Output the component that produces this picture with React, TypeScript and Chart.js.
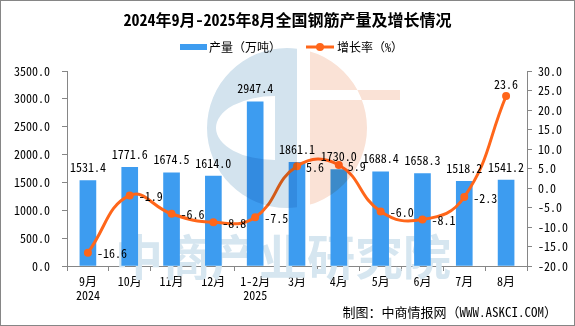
import React, { useEffect, useRef } from "react";
import { Chart, registerables } from "chart.js";

Chart.register(...registerables);

const categories: (string | string[])[] = [
  ["9月", "2024"], "10月", "11月", "12月", ["1-2月", "2025"], "3月", "4月", "5月", "6月", "7月", "8月",
];
const production = [1531.4, 1771.6, 1674.5, 1614.0, 2947.4, 1861.1, 1730.0, 1688.4, 1658.3, 1518.2, 1541.2];
const growth = [-16.6, -1.9, -6.6, -8.8, -7.5, 5.6, 5.9, -6.0, -8.1, -2.3, 23.6];

const titleText = "2024年9月-2025年8月全国钢筋产量及增长情况";
const barLegend = "产量（万吨）";
const lineLegend = "增长率（%）";
const footerText = "制图：中商情报网（WWW.ASKCI.COM）";
const watermarkText = "中商产业研究院";

const leftMin = 0, leftMax = 3500, leftStep = 500;
const rightMin = -20, rightMax = 30, rightStep = 5;

const BAR_COLOR = "#3d9cf0";
const LINE_COLOR = "#ff661a";
const AXIS_COLOR = "#868686";
const FAMILY = '"Noto Sans Mono CJK SC", "Liberation Mono", "Noto Sans CJK SC", monospace';
const CJK = '"Noto Sans CJK SC", sans-serif';

const decorPlugin = {
  id: "decor",
  beforeDatasetsDraw(chart: any) {
    const ctx = chart.ctx;
    ctx.save();
    ctx.fillStyle = "#d6e6f0";
    ctx.font = `bold 48px ${CJK}`;
    ctx.textAlign = "center";
    ctx.textBaseline = "middle";
    ctx.fillText(watermarkText, 283, 257);
    ctx.restore();
  },
  afterDatasetsDraw(chart: any) {
    const ctx = chart.ctx;
    // logo watermark (multiply blend)
    ctx.save();
    ctx.globalCompositeOperation = "multiply";
    const cx = 287, cy = 128, r = 80;
    // blue part
    ctx.save();
    ctx.beginPath();
    ctx.rect(cx - r - 2, cy - r - 2, 297 - (cx - r - 2), 2 * r + 4);
    ctx.clip();
    ctx.beginPath();
    ctx.arc(cx, cy, r, 0, Math.PI * 2);
    ctx.closePath();
    ctx.moveTo(275, cy - 32);
    ctx.ellipse(275, cy, 59, 32, 0, -Math.PI / 2, Math.PI / 2, true);
    ctx.closePath();
    ctx.fillStyle = "#d3e3ee";
    ctx.fill("evenodd");
    ctx.restore();
    // orange part
    ctx.save();
    ctx.beginPath();
    ctx.rect(310, cy - r - 2, r + 10, 2 * r + 4);
    ctx.clip();
    ctx.beginPath();
    ctx.arc(cx, cy, r, 0, Math.PI * 2);
    ctx.closePath();
    ctx.rect(300, 90, 100, 10);
    ctx.fillStyle = "#fae2d6";
    ctx.fill("evenodd");
    ctx.restore();
    ctx.restore();

    // data labels
    ctx.save();
    ctx.font = `12px ${FAMILY}`;
    ctx.fillStyle = "#000";
    const barMeta = chart.getDatasetMeta(1);
    ctx.textAlign = "center";
    ctx.textBaseline = "middle";
    barMeta.data.forEach((el: any, i: number) => {
      ctx.fillText(production[i].toFixed(1), el.x, el.y - 13);
    });
    const lineMeta = chart.getDatasetMeta(0);
    const last = lineMeta.data.length - 1;
    lineMeta.data.forEach((el: any, i: number) => {
      if (i === last) {
        ctx.textAlign = "center";
        ctx.fillText(growth[i].toFixed(1), el.x, el.y - 12);
      } else {
        ctx.textAlign = "left";
        ctx.fillText(growth[i].toFixed(1), el.x + 9, el.y + 1);
      }
    });
    ctx.restore();
  },
  afterDraw(chart: any) {
    const ctx = chart.ctx;
    ctx.save();
    // title
    ctx.fillStyle = "#000";
    ctx.font = `bold 16px ${FAMILY}`;
    ctx.textAlign = "center";
    ctx.textBaseline = "middle";
    ctx.fillText(titleText, 287.5, 20);
    // legend
    ctx.fillStyle = BAR_COLOR;
    ctx.fillRect(180, 44, 27, 6);
    ctx.fillStyle = "#000";
    ctx.font = `12px ${FAMILY}`;
    ctx.textAlign = "left";
    ctx.fillText(barLegend, 209, 47);
    ctx.strokeStyle = LINE_COLOR;
    ctx.lineWidth = 3;
    ctx.beginPath();
    ctx.moveTo(306, 47);
    ctx.lineTo(334, 47);
    ctx.stroke();
    ctx.fillStyle = LINE_COLOR;
    ctx.beginPath();
    ctx.arc(320, 47, 4, 0, Math.PI * 2);
    ctx.fill();
    ctx.fillStyle = "#000";
    ctx.fillText(lineLegend, 337, 47);
    // footer
    ctx.font = `13px ${FAMILY}`;
    ctx.textAlign = "right";
    ctx.fillText(footerText, 557, 312);
    // border
    ctx.strokeStyle = AXIS_COLOR;
    ctx.lineWidth = 1;
    ctx.strokeRect(0.5, 0.5, 574, 325);
    ctx.restore();
  },
};

export default function App() {
  const ref = useRef<HTMLCanvasElement | null>(null);
  useEffect(() => {
    document.body.style.margin = "0";
    const canvas = ref.current!;
    const chart = new Chart(canvas, {
      type: "bar",
      data: {
        labels: categories as any,
        datasets: [
          {
            type: "line",
            label: lineLegend,
            data: growth,
            yAxisID: "y1",
            borderColor: LINE_COLOR,
            backgroundColor: LINE_COLOR,
            borderWidth: 3,
            tension: 0.45,
            pointRadius: 4,
            pointBackgroundColor: LINE_COLOR,
            pointBorderWidth: 0,
            order: 0,
          } as any,
          {
            type: "bar",
            label: barLegend,
            data: production,
            yAxisID: "y",
            backgroundColor: BAR_COLOR,
            barThickness: 16,
            order: 1,
          },
        ],
      },
      options: {
        animation: false,
        responsive: false,
        devicePixelRatio: 1,
        layout: { padding: { top: 71, left: 0, right: 0, bottom: 0 } },
        plugins: { legend: { display: false }, title: { display: false }, tooltip: { enabled: false } },
        scales: {
          x: {
            offset: true,
            grid: { offset: true, display: true, drawOnChartArea: false, tickLength: 5, color: AXIS_COLOR },
            border: { color: AXIS_COLOR },
            ticks: { color: "#000", font: { family: FAMILY, size: 12, lineHeight: 1.17 }, padding: 3, maxRotation: 0, autoSkip: false },
            afterFit: (s: any) => { s.height = 60; },
          },
          y: {
            position: "left",
            min: leftMin,
            max: leftMax,
            grid: { display: true, drawOnChartArea: false, tickLength: 5, color: AXIS_COLOR },
            border: { color: AXIS_COLOR },
            ticks: { stepSize: leftStep, color: "#000", font: { family: FAMILY, size: 12 }, padding: 12, callback: (v: any) => Number(v).toFixed(1) },
            afterFit: (s: any) => { s.width = 67; },
          },
          y1: {
            position: "right",
            min: rightMin,
            max: rightMax,
            grid: { display: true, drawOnChartArea: false, tickLength: 5, color: AXIS_COLOR },
            border: { color: AXIS_COLOR },
            ticks: { stepSize: rightStep, color: "#000", font: { family: FAMILY, size: 12 }, padding: 6, callback: (v: any) => Number(v).toFixed(1) },
            afterFit: (s: any) => { s.width = 48; },
          },
        },
      },
      plugins: [decorPlugin],
    });
    return () => chart.destroy();
  }, []);
  return <canvas ref={ref} width={575} height={326} style={{ display: "block", width: 575, height: 326 }} />;
}
